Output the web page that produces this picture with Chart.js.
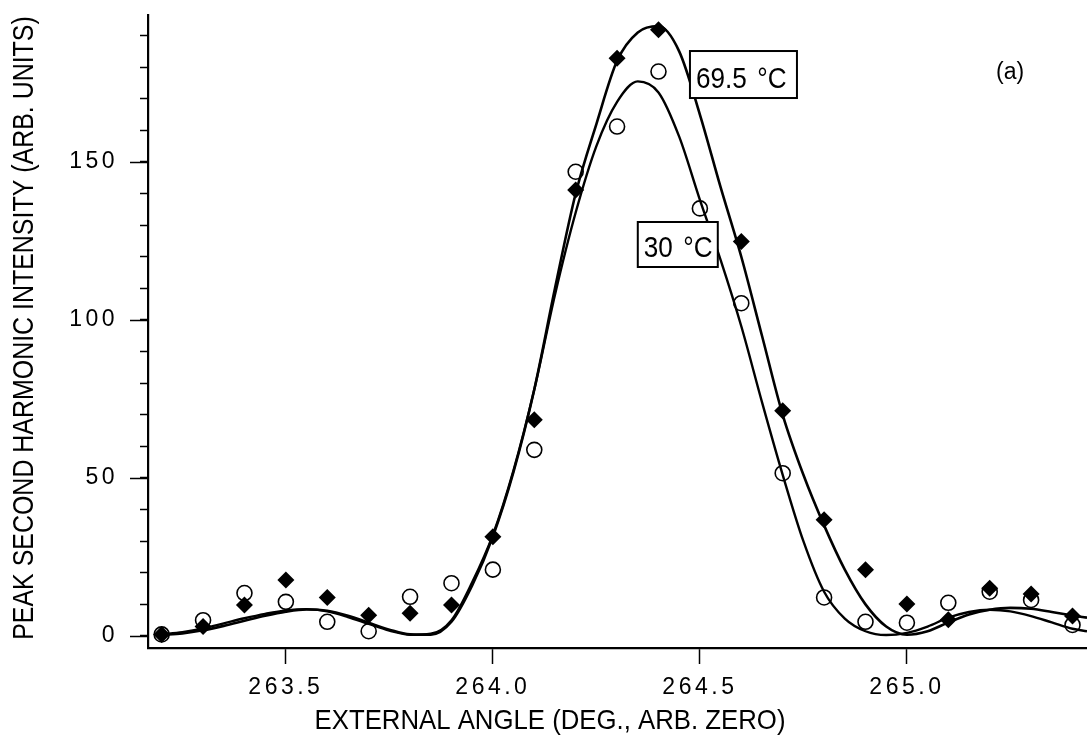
<!DOCTYPE html>
<html><head><meta charset="utf-8">
<script src="https://cdn.jsdelivr.net/npm/chart.js@4/dist/chart.umd.min.js"></script>
<style>html,body{margin:0;padding:0;background:#fff;}#wrap{width:1087px;height:745px;position:relative;}</style>
</head><body><div id="wrap"><canvas id="c" width="1087" height="745"></canvas></div>
<script>
// ---- data ----
const angleTicks = [263.5, 264.0, 264.5, 265.0];
const intensityTicks = [0, 50, 100, 150];
const intensityMinorTicks = [0,10,20,30,40,50,60,70,80,90,100,110,120,130,140,150,160,170,180,190];

const measAngle = [263.2,263.3,263.4,263.5,263.6,263.7,263.8,263.9,264.0,264.1,264.2,264.3,264.4,264.5,264.6,264.7,264.8,264.9,265.0,265.1,265.2,265.3,265.4];
const meas695 = [0.5,3,9.8,17.7,12.2,6.6,7.2,9.8,31.4,68.4,141.1,182.8,191.8,null,124.8,71.3,36.8,21,10.1,5.1,15.1,13.3,6.3];
const meas30  = [0.5,5,13.6,10.8,4.5,1.5,12.4,16.7,21,58.9,146.9,161.2,178.6,135.3,105.3,51.5,12.2,4.5,4.2,10.5,14,11.4,3.5];

const fitAngle = [263.20,263.25,263.30,263.35,263.40,263.45,263.50,263.55,263.60,263.65,263.70,263.75,263.80,263.85,263.90,263.95,
  264.00,264.05,264.10,264.15,264.20,264.25,264.30,264.35,264.40,264.45,264.50,264.55,264.60,264.65,264.70,264.75,264.80,264.85,264.90,264.95,
  265.00,265.05,265.10,265.15,265.20,265.25,265.30,265.35,265.40,265.435];
const fit695 = [0.3,0.8,1.8,3.2,4.8,6.4,7.7,8.4,8.0,6.4,4.2,2.0,0.5,0.4,4.5,16,
  31.5,52,78,110,140,162,182,191,193,185,165,142,120,95,70,51,35,21,10,3,
  0.4,1.5,4.3,6.8,8.3,8.9,8.6,7.6,6.5,5.8];
const fit30 = [0.5,1.2,2.4,4.0,5.6,7.0,8.1,8.5,7.8,6.0,3.8,1.7,0.4,0.7,5.0,17,
  32,52.5,78,108,134,155,169,175.5,172,158,138,119,98,74,51,30,14,5.5,1.5,0.3,
  1.0,3.0,5.8,7.6,8.3,7.8,6.3,4.3,2.3,1.5];

const xTitle = 'EXTERNAL ANGLE (DEG., ARB. ZERO)';
const yTitle = 'PEAK SECOND HARMONIC INTENSITY (ARB. UNITS)';
const labels = [
  {text1:'69.5', text2:'°C', x:264.476, y:185.1, w:107, h:47},
  {text1:'30', text2:'°C', x:264.350, y:131.0, w:80, h:45}
];
const panelLabel = '(a)';

// ---- styles ----
const FONT = '"Liberation Sans", Arial, Helvetica, sans-serif';
const TICK_SPACING = '3.5px';

const pts = (xs, ys) => xs.map((x,i)=>({x, y: ys[i]}));

const spacingPlugin = {
  id:'spacing',
  beforeDraw(chart){
    for (const id of ['x','y']) {
      const s = chart.scales[id];
      if (s && !s._spPatched) {
        const orig = s.drawLabels.bind(s);
        s.drawLabels = function(area){ const c = this.ctx; c.save(); c.letterSpacing = TICK_SPACING; orig(area); c.restore(); };
        s._spPatched = true;
      }
    }
  }
};

const overlayPlugin = {
  id:'overlay',
  afterDatasetsDraw(chart){
    const ctx = chart.ctx, xs = chart.scales.x, ys = chart.scales.y;
    labels.forEach((L) => {
      const px = xs.getPixelForValue(L.x), py = ys.getPixelForValue(L.y);
      ctx.save();
      ctx.fillStyle = '#fff';
      ctx.fillRect(px, py, L.w, L.h);
      ctx.lineWidth = 2; ctx.strokeStyle = '#000';
      ctx.strokeRect(px, py, L.w, L.h);
      ctx.fillStyle = '#000';
      ctx.textBaseline = 'alphabetic';
      ctx.font = '30px ' + FONT;
      ctx.translate(px + 6, py + L.h - 10);
      ctx.scale(0.87, 1);
      ctx.fillText(L.text1, 0, 0);
      const w1 = ctx.measureText(L.text1).width;
      ctx.fillText(L.text2, w1 + 12, 0);
      ctx.restore();
    });
  },
  afterDraw(chart){
    const ctx = chart.ctx, xs = chart.scales.x, ys = chart.scales.y;
    ctx.save();
    ctx.strokeStyle = '#000'; ctx.lineWidth = 1.5;
    intensityTicks.forEach(v => {
      const py = Math.round(ys.getPixelForValue(v)) + 0.5;
      ctx.beginPath(); ctx.moveTo(xs.left - 18, py); ctx.lineTo(xs.left, py); ctx.stroke();
    });
    ctx.fillStyle = '#000';
    ctx.save();
    ctx.translate(25, 328);
    ctx.rotate(-Math.PI / 2);
    ctx.scale(0.86, 1);
    ctx.font = '29px ' + FONT;
    ctx.textAlign = 'center'; ctx.textBaseline = 'middle';
    ctx.fillText(yTitle, 0, 0);
    ctx.restore();
    ctx.save();
    ctx.translate(550, 721);
    ctx.scale(0.92, 1);
    ctx.font = '28px ' + FONT;
    ctx.textAlign = 'center'; ctx.textBaseline = 'middle';
    ctx.fillText(xTitle, 0, 0);
    ctx.restore();
    ctx.font = '23px ' + FONT;
    ctx.textAlign = 'left'; ctx.textBaseline = 'alphabetic';
    ctx.fillText(panelLabel, 996, 79);
    ctx.restore();
  }
};

new Chart(document.getElementById('c'), {
  type: 'line',
  data: {
    datasets: [
      { label:'69.5 °C meas', data: pts(measAngle, meas695), showLine:false, pointStyle:'rectRot', pointRadius:8.5,
        pointBackgroundColor:'#000', pointBorderColor:'#000', pointBorderWidth:0, order:1 },
      { label:'30 °C meas', data: pts(measAngle, meas30), showLine:false, pointStyle:'circle', pointRadius:7.5,
        pointBackgroundColor:'rgba(0,0,0,0)', pointBorderColor:'#000', pointBorderWidth:1.6, order:2 },
      { label:'69.5 °C fit', data: pts(fitAngle, fit695), borderColor:'#000', borderWidth:2.6, pointRadius:0,
        cubicInterpolationMode:'monotone', fill:false, order:3 },
      { label:'30 °C fit', data: pts(fitAngle, fit30), borderColor:'#000', borderWidth:2.4, pointRadius:0,
        cubicInterpolationMode:'monotone', fill:false, order:4 }
    ]
  },
  options: {
    responsive:false, animation:false, devicePixelRatio:1,
    layout:{ autoPadding:false, padding:{ top:15, left:0, right:0, bottom:0 } },
    plugins:{ legend:{display:false}, tooltip:{enabled:false} },
    scales:{
      x:{
        type:'linear', min:263.167, max:265.435,
        afterBuildTicks: s => { s.ticks = angleTicks.map(v=>({value:v})); },
        afterFit: s => { s.height = 97; s.paddingLeft = 0; s.paddingRight = 0; },
        border:{ display:true, color:'#000', width:2.2 },
        grid:{ display:true, drawOnChartArea:false, drawTicks:true, tickLength:16, tickWidth:1.5, tickColor:'#000' },
        ticks:{ color:'#000', padding:10, font:{ family:FONT, size:23 }, maxRotation:0, autoSkip:false,
          callback: v => Number(v).toFixed(1) }
      },
      y:{
        type:'linear', min:-3.8, max:196.5,
        afterBuildTicks: s => { s.ticks = intensityMinorTicks.map(v=>({value:v})); },
        afterFit: s => { s.width = 148; s.paddingTop = 0; s.paddingBottom = 0; },
        border:{ display:true, color:'#000', width:2.2 },
        grid:{ display:true, drawOnChartArea:false, drawTicks:true, tickLength:8, tickWidth:1.5, tickColor:'#000' },
        ticks:{ color:'#000', padding:22, font:{ family:FONT, size:23 }, autoSkip:false,
          callback: v => intensityTicks.includes(v) ? String(v) : '' }
      }
    }
  },
  plugins:[spacingPlugin, overlayPlugin]
});
</script></body></html>
